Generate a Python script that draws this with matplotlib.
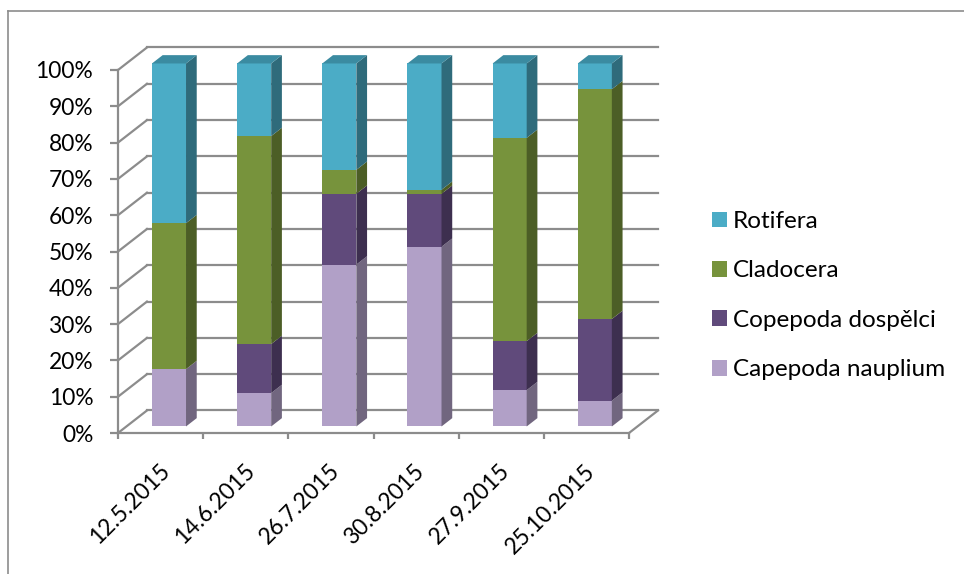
import matplotlib.pyplot as plt
from matplotlib.patches import Polygon, Patch
from matplotlib.lines import Line2D
import numpy as np

plt.rcParams['font.family'] = ['Lato', 'DejaVu Sans']

dates = ['12.5.2015', '14.6.2015', '26.7.2015', '30.8.2015', '27.9.2015', '25.10.2015']
series = ['Capepoda nauplium', 'Copepoda dospělci', 'Cladocera', 'Rotifera']
nauplium = [15.8, 9.2, 44.6, 49.5, 10.0, 7.1]
dospelci = [0.0, 13.5, 19.5, 14.6, 13.5, 22.5]
cladocera = [40.2, 57.3, 6.6, 1.1, 56.0, 63.3]
rotifera = [44.0, 20.0, 29.3, 34.8, 20.5, 7.1]

front_colors = ['#B1A0C7', '#604A7B', '#77933C', '#4BACC6']
side_colors = ['#71667F', '#3D2F4F', '#4C5E26', '#2F6B7B']
top_color = '#3B8BA1'
grid_c = '#8c8c8c'

# pseudo-3D geometry (data units): wall depth, bar placement inside it
DX, DY = 0.34, 6.2
F0, FD = 0.29, 0.37
W = 0.4

data = np.array([nauplium, dospelci, cladocera, rotifera], dtype=float)
pct = data / data.sum(axis=0) * 100
n = len(dates)
centers = np.arange(n) + 0.5

fig = plt.figure(figsize=(9.64, 5.74), dpi=100)
ax = fig.add_axes([118 / 964, 141 / 574, 511 / 964, 363 / 574])
ax.set_xlim(0, n)
ax.set_ylim(0, 100)

for s in ['top', 'right']:
    ax.spines[s].set_visible(False)
for s in ['left', 'bottom']:
    ax.spines[s].set_color(grid_c)
    ax.spines[s].set_linewidth(1.6)

yt = np.arange(0, 101, 10)
ax.set_yticks(yt)
ax.set_yticklabels([f'{v}%' for v in yt])
ax.tick_params(axis='y', length=5.8, width=1.6, color=grid_c, pad=12, labelsize=16.4)
ax.set_xticks(np.arange(n + 1))
ax.set_xticklabels([])
ax.tick_params(axis='x', length=4, width=1.6, color=grid_c)

# walls and floor
for p in yt:
    ax.plot([0, DX], [p, p + DY], color=grid_c, lw=1.6, clip_on=False, zorder=1)
    ax.plot([DX, n + DX], [p + DY, p + DY], color=grid_c, lw=1.6, clip_on=False, zorder=1)
ax.plot([n, n + DX], [0, DY], color=grid_c, lw=1.6, clip_on=False, zorder=1)

# stacked columns: front face, right side, top
bottom = np.zeros(n)
xc = centers + F0 * DX
for k in range(len(series)):
    vals = pct[k]
    base = bottom + F0 * DY
    ax.bar(xc, vals, width=W, bottom=base, color=front_colors[k], linewidth=0,
           zorder=3, clip_on=False)
    for i in range(n):
        if vals[i] <= 0:
            continue
        xr = xc[i] + W / 2
        b, t = base[i], base[i] + vals[i]
        side = Polygon([(xr, b), (xr + FD * DX, b + FD * DY),
                        (xr + FD * DX, t + FD * DY), (xr, t)],
                       closed=True, facecolor=side_colors[k], edgecolor='none',
                       zorder=3, clip_on=False)
        ax.add_patch(side)
    bottom += vals

for i in range(n):
    xl, xr = xc[i] - W / 2, xc[i] + W / 2
    t = bottom[i] + F0 * DY
    top = Polygon([(xl, t), (xr, t), (xr + FD * DX, t + FD * DY), (xl + FD * DX, t + FD * DY)],
                  closed=True, facecolor=top_color, edgecolor='none', zorder=3, clip_on=False)
    ax.add_patch(top)

# rotated category labels
for i, d in enumerate(dates):
    ax.annotate(d, xy=(centers[i], 0), xytext=(4, -25), textcoords='offset points',
                ha='right', va='center', rotation=45, rotation_mode='anchor',
                fontsize=16.4, annotation_clip=False)

handles = [Patch(facecolor=c, edgecolor='none') for c in front_colors[::-1]]
fig.legend(handles, series[::-1], loc='upper left',
           bbox_to_anchor=(712 / 964, 1 - 211 / 574), frameon=False, fontsize=17.5,
           handlelength=0.62, handleheight=0.62, handletextpad=0.25,
           labelspacing=1.17, borderpad=0, borderaxespad=0)

# chart area border (top and left edges)
fig.add_artist(Line2D([8 / 964, 1], [1 - 10.5 / 574, 1 - 10.5 / 574],
                      transform=fig.transFigure, color='#8c8c8c', lw=1.2))
fig.add_artist(Line2D([8 / 964, 8 / 964], [0, 1 - 10.5 / 574],
                      transform=fig.transFigure, color='#8c8c8c', lw=1.2))

fig.savefig('out.png', dpi=100)
